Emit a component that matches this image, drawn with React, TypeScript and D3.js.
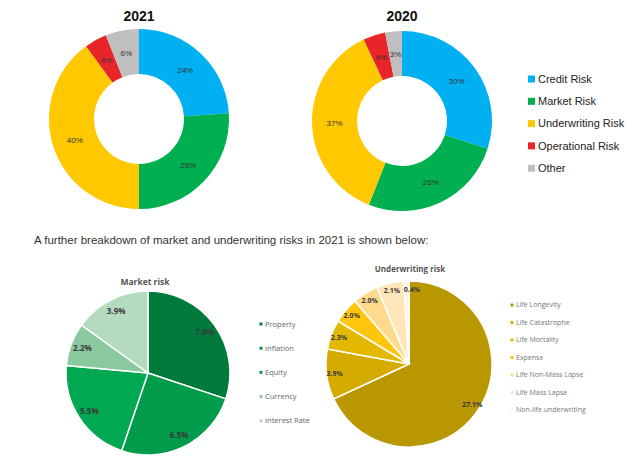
import React from "react";
import * as d3 from "d3";

const riskCategories = ["Credit Risk", "Market Risk", "Underwriting Risk", "Operational Risk", "Other"];
const riskColors = ["#00B0F0", "#00B050", "#FFC800", "#E8262A", "#BFBFBF"];
const values2021 = [24, 26, 40, 4, 6];
const values2020 = [30, 26, 37, 4, 3];

const marketCategories = ["Property", "Inflation", "Equity", "Currency", "Interest Rate"];
const marketValues = [7.8, 6.5, 5.5, 2.2, 3.9];
const marketColors = ["#007A3B", "#009C4B", "#00A852", "#8AC89D", "#B5DBBF"];

const uwCategories = ["Life Longevity", "Life Catastrophe", "Life Mortality", "Expense", "Life Non-Mass Lapse", "Life Mass Lapse", "Non-life underwriting"];
const uwValues = [27.1, 3.9, 2.3, 2.0, 2.0, 2.1, 0.4];
const uwColors = ["#B89700", "#D5AB00", "#E5B800", "#FFC60D", "#FFD98C", "#FFE6BA", "#FFF2DF"];

const pie = d3.pie<number>().sort(null).value((d) => d);

function Donut({ cx, cy, values, title }: { cx: number; cy: number; values: number[]; title: string }) {
  const arcs = pie(values);
  const arc = d3.arc<d3.PieArcDatum<number>>().innerRadius(45).outerRadius(90);
  return (
    <g>
      <text x={cx} y={21} textAnchor="middle" fontFamily="Liberation Sans, Arial, sans-serif" fontWeight="bold" fontSize={14} fill="#111">
        {title}
      </text>
      <g transform={`translate(${cx},${cy})`}>
        {arcs.map((a, i) => (
          <path key={i} d={arc(a) || ""} fill={riskColors[i]} />
        ))}
        {arcs.map((a, i) => {
          const [x, y] = arc.centroid(a);
          return (
            <text key={"t" + i} x={x} y={y} dy="0.35em" textAnchor="middle" fontFamily="Liberation Sans, Arial, sans-serif" fontSize={8} fill="#333">
              {values[i]}%
            </text>
          );
        })}
      </g>
    </g>
  );
}

function Pie({ cx, cy, r, values, colors, labelR, fontSize }: { cx: number; cy: number; r: number; values: number[]; colors: string[]; labelR: number; fontSize: number }) {
  const arcs = pie(values);
  const arc = d3.arc<d3.PieArcDatum<number>>().innerRadius(0).outerRadius(r);
  const labelArc = d3.arc<d3.PieArcDatum<number>>().innerRadius(labelR).outerRadius(labelR);
  return (
    <g transform={`translate(${cx},${cy})`}>
      {arcs.map((a, i) => (
        <path key={i} d={arc(a) || ""} fill={colors[i]} stroke="#fff" strokeWidth={1.5} />
      ))}
      {arcs.map((a, i) => {
        const [x, y] = labelArc.centroid(a);
        const tiny = values[i] < 1;
        return (
          <text key={"t" + i} x={x} y={y} dx={tiny ? -3 : 0} dy="0.35em" textAnchor={tiny ? "start" : "middle"} fontFamily="Open Sans, Lato, sans-serif" fontWeight="bold" fontSize={fontSize} fill="#3a3a3a">
            {values[i].toFixed(1)}%
          </text>
        );
      })}
    </g>
  );
}

export default function App() {
  return (
    <svg width={640} height={457} style={{ position: "absolute", left: 0, top: 0, background: "#fff" }}>
      <rect width={640} height={457} fill="#fff" />
      <Donut cx={139} cy={119} values={values2021} title="2021" />
      <Donut cx={402} cy={121} values={values2020} title="2020" />
      {riskCategories.map((c, i) => (
        <g key={c} transform={`translate(528,${79 + i * 22.3})`}>
          <rect x={0} y={-3.5} width={7} height={7} fill={riskColors[i]} />
          <text x={10} y={0} dy="0.35em" fontFamily="Liberation Sans, Arial, sans-serif" fontSize={11} fill="#222">
            {c}
          </text>
        </g>
      ))}
      <text x={34} y={244} fontFamily="Liberation Sans, Arial, sans-serif" fontSize={11.5} fill="#333">
        A further breakdown of market and underwriting risks in 2021 is shown below:
      </text>

      <text x={145} y={285} textAnchor="middle" fontFamily="Open Sans, Lato, sans-serif" fontWeight="bold" fontSize={8.5} fill="#555">
        Market risk
      </text>
      <Pie cx={148} cy={373} r={82} values={marketValues} colors={marketColors} labelR={70} fontSize={8} />
      {marketCategories.map((c, i) => (
        <g key={c} transform={`translate(261,${324 + i * 24.2})`}>
          <rect x={-1.5} y={-1.5} width={3} height={3} fill={marketColors[i]} />
          <text x={4} y={0} dy="0.35em" fontFamily="Open Sans, Lato, sans-serif" fontSize={7.5} fill="#666">
            {c}
          </text>
        </g>
      ))}

      <text x={410} y={272} textAnchor="middle" fontFamily="Open Sans, Lato, sans-serif" fontWeight="bold" fontSize={8} fill="#555">
        Underwriting risk
      </text>
      <Pie cx={409} cy={364} r={83} values={uwValues} colors={uwColors} labelR={75} fontSize={7} />
      {uwCategories.map((c, i) => (
        <g key={c} transform={`translate(512,${305 + i * 17.5})`}>
          <rect x={-1.5} y={-1.5} width={3} height={3} fill={uwColors[i]} />
          <text x={4} y={0} dy="0.35em" fontFamily="Open Sans, Lato, sans-serif" fontSize={7} fill="#777">
            {c}
          </text>
        </g>
      ))}
    </svg>
  );
}
